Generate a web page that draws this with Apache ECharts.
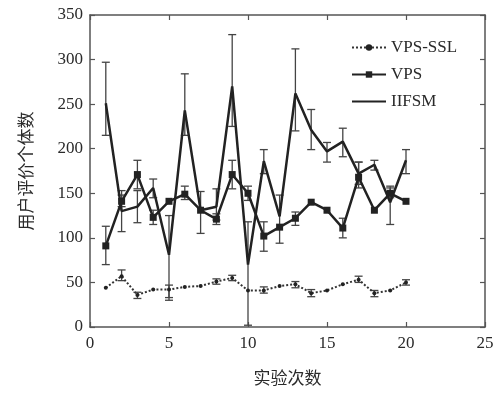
<!DOCTYPE html>
<html>
<head>
<meta charset="utf-8">
<script src="https://cdn.jsdelivr.net/npm/echarts@6/dist/echarts.min.js"></script>
<style>html,body{margin:0;padding:0;background:#fff}#c{width:502px;height:394px}</style>
</head>
<body>
<div id="c"></div>
<script>
const runs = [1,2,3,4,5,6,7,8,9,10,11,12,13,14,15,16,17,18,19,20];
const xTicks = [0,5,10,15,20,25];
const yTicks = [0,50,100,150,200,250,300,350];

const sslMean = [44,57,36,42,42,45,46,51,55,41,41,46,48,38,41,48,53,38,41,50];
const sslLo   = [null,52,32,null,30,null,null,48,52,null,38,null,44,34,null,null,50,34,null,47];
const sslHi   = [null,64,39,null,47,null,null,54,58,null,45,null,51,42,null,null,57,41,null,53];

const vpsMean = [91,141,171,123,141,149,131,121,171,150,102,112,122,140,131,111,168,131,150,141];
const vpsLo   = [70,135,155,115,null,143,null,115,155,142,85,null,114,null,null,100,156,null,145,null];
const vpsHi   = [113,148,187,131,null,158,null,127,187,158,118,null,129,null,null,122,185,null,156,null];

const iifsmMean = [251,130,135,156,81,243,131,135,270,70,186,124,262,221,197,208,172,182,140,187];
const iifsmLo   = [215,107,117,145,33,215,105,120,225,2,172,94,220,199,185,191,160,176,115,172];
const iifsmHi   = [297,153,153,166,125,284,152,155,328,118,199,148,312,244,207,223,185,187,158,199];

const serif = 'Liberation Serif';
const cjk = 'Noto Sans CJK SC';
const ink = '#2a2a2a';

function pts(mean){ return runs.map((x,i)=>[x,mean[i]]); }
function errs(lo,hi){
  const out=[];
  runs.forEach((x,i)=>{ if(lo[i]!=null && hi[i]!=null) out.push([x,lo[i],hi[i]]); });
  return out;
}
function errSeries(lo,hi){
  return {
    type:'custom', silent:true, z:1,
    data: errs(lo,hi),
    encode:{x:0,y:[1,2]},
    renderItem:function(params,api){
      const x=api.value(0), l=api.value(1), h=api.value(2);
      const p1=api.coord([x,l]), p2=api.coord([x,h]);
      const w=4;
      const st={stroke:'#444',lineWidth:1.3,fill:null};
      return {type:'group',children:[
        {type:'line',shape:{x1:p1[0],y1:p1[1],x2:p2[0],y2:p2[1]},style:st},
        {type:'line',shape:{x1:p1[0]-w,y1:p1[1],x2:p1[0]+w,y2:p1[1]},style:st},
        {type:'line',shape:{x1:p2[0]-w,y1:p2[1],x2:p2[0]+w,y2:p2[1]},style:st}
      ]};
    }
  };
}

const chart = echarts.init(document.getElementById('c'),null,{renderer:'canvas'});
const axisLine = {show:true,onZero:false,lineStyle:{color:'#555',width:1.5}};
const tick = {show:true,inside:true,length:5,lineStyle:{color:'#555',width:1.2}};
chart.setOption({
  animation:false,
  backgroundColor:'#fff',
  grid:{left:90,right:17,top:15,bottom:67},
  legend:{
    orient:'vertical', left:346, top:34, itemGap:10,
    itemWidth:34, itemHeight:8,
    textStyle:{fontFamily:serif,fontSize:17,color:ink},
    data:['VPS-SSL','VPS',{name:'IIFSM',itemStyle:{opacity:0}}]
  },
  xAxis:[
    {type:'value',min:0,max:25,interval:5,position:'bottom',
     axisLine:axisLine,axisTick:tick,splitLine:{show:false},
     axisLabel:{fontFamily:serif,fontSize:17,color:ink,margin:8},
     name:'实验次数',nameLocation:'middle',nameGap:42,
     nameTextStyle:{fontFamily:cjk,fontSize:17,color:ink}},
    {type:'value',min:0,max:25,interval:5,position:'top',
     axisLine:axisLine,axisTick:tick,axisLabel:{show:false},splitLine:{show:false}}
  ],
  yAxis:[
    {type:'value',min:0,max:350,interval:50,position:'left',
     axisLine:axisLine,axisTick:tick,splitLine:{show:false},
     axisLabel:{fontFamily:serif,fontSize:17,color:ink,margin:7},
     name:'用户评价个体数',nameLocation:'middle',nameGap:56,nameRotate:90,
     nameTextStyle:{fontFamily:cjk,fontSize:17,color:ink}},
    {type:'value',min:0,max:350,interval:50,position:'right',
     axisLine:axisLine,axisTick:tick,axisLabel:{show:false},splitLine:{show:false}}
  ],
  series:[
    errSeries(sslLo,sslHi),
    errSeries(vpsLo,vpsHi),
    errSeries(iifsmLo,iifsmHi),
    {name:'VPS-SSL',type:'line',data:pts(sslMean),symbol:'circle',symbolSize:4,z:3,
     lineStyle:{type:'dotted',width:2,color:'#333'},itemStyle:{color:'#222'}},
    {name:'VPS',type:'line',data:pts(vpsMean),symbol:'rect',symbolSize:7,z:3,
     lineStyle:{type:'solid',width:2.5,color:'#222'},itemStyle:{color:'#222'}},
    {name:'IIFSM',type:'line',data:pts(iifsmMean),symbol:'none',z:3,
     lineStyle:{type:'solid',width:2.5,color:'#222'},itemStyle:{color:'#222'}}
  ]
});
</script>
</body>
</html>
